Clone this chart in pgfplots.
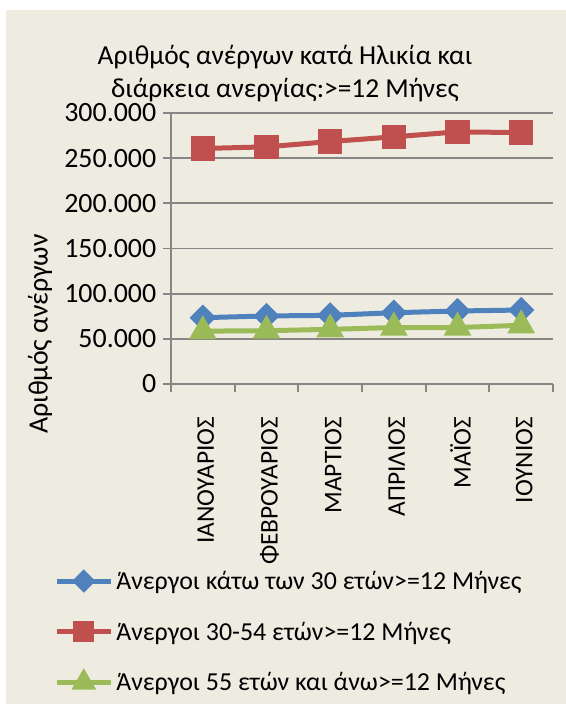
\documentclass[border=0pt]{standalone}
\usepackage{pgfplots}
\pgfplotsset{compat=1.18}
\usepackage{fontspec}
\setmainfont{Carlito}
\definecolor{bgpaper}{HTML}{EEECE1}
\definecolor{xlblue}{HTML}{4F81BD}
\definecolor{xlred}{HTML}{C0504D}
\definecolor{xlgreen}{HTML}{9BBB59}
\definecolor{gridgray}{HTML}{868686}

\begin{document}
\begin{tikzpicture}[x=1bp,y=1bp]
  \fill[white] (0,0) rectangle (566,704);
  \fill[bgpaper] (6,0) rectangle (566,694);
  \node[align=center, font=\fontsize{27.5}{33}\selectfont] at (285,630.5)
    {Αριθμός ανέργων κατά Ηλικία και\\διάρκεια ανεργίας:>=12 Μήνες};
  \begin{axis}[
    at={(171bp,320bp)}, anchor=south west,
    scale only axis, width=382bp, height=271bp,
    xmin=0.5, xmax=6.5, ymin=0, ymax=300000,
    xtick={1,...,6},
    xticklabels={ΙΑΝΟΥΑΡΙΟΣ,ΦΕΒΡΟΥΑΡΙΟΣ,ΜΑΡΤΙΟΣ,ΑΠΡΙΛΙΟΣ,ΜΑΪΟΣ,ΙΟΥΝΙΟΣ},
    minor xtick={0.5,1.5,...,6.5},
    ytick={0,50000,100000,150000,200000,250000,300000},
    yticklabels={0,50.000,100.000,150.000,200.000,250.000,300.000},
    scaled y ticks=false,
    tick align=outside,
    xtick style={/pgfplots/major tick length=0pt},
    ytick style={/pgfplots/major tick length=8bp, gridgray, line width=1.8bp},
    minor tick length=8bp,
    minor x tick style={gridgray, line width=1.8bp},
    axis x line*=bottom, axis y line*=left,
    axis line style={-, gridgray, line width=1.8bp},
    ymajorgrids, grid style={gridgray, line width=1.8bp},
    yticklabel style={font=\fontsize{28}{32}\selectfont, xshift=-7bp},
    xticklabel style={font=\fontsize{25.5}{30}\selectfont,
      rotate=90, anchor=east, xshift=-25bp, yshift=-3bp},
    ylabel={Αριθμός ανέργων},
    ylabel style={at={(axis description cs:-0.343,0.1845)}, anchor=center,
      font=\fontsize{28}{32}\selectfont},
    clip=false,
    legend style={at={(axis description cs:-0.306,-0.679)}, anchor=north west,
      draw=none, fill=none, inner sep=0pt, row sep=25bp,
      nodes={inner sep=3bp, font=\fontsize{26}{30}\selectfont}},
    legend cell align=left,
    legend image code/.code={
      \draw[mark repeat=2, mark phase=2, #1, every mark/.append style={scale=0.85}]
        plot coordinates {(0bp,0bp) (27bp,0bp) (54bp,0bp)};},
  ]
  \addplot[xlblue, line width=5bp, mark=square*, mark size=6.8bp,
    mark options={solid, fill=xlblue, rotate=45}]
    coordinates {(1,73400) (2,75300) (3,76000) (4,78900) (5,80800) (6,81900)};
  \addlegendentry{Άνεργοι κάτω των 30 ετών>=12 Μήνες}
  \addplot[xlred, line width=5bp, mark=square*, mark size=9.6bp,
    mark options={solid, fill=xlred}]
    coordinates {(1,260700) (2,262500) (3,268400) (4,273600) (5,279100) (6,278300)};
  \addlegendentry{Άνεργοι 30-54 ετών>=12 Μήνες}
  \addplot[xlgreen, line width=5bp, mark=triangle*, mark size=11bp,
    mark options={solid, fill=xlgreen}]
    coordinates {(1,58500) (2,59000) (3,60500) (4,62500) (5,62500) (6,65000)};
  \addlegendentry{Άνεργοι 55 ετών και άνω>=12 Μήνες}
  \end{axis}
\end{tikzpicture}
\end{document}
